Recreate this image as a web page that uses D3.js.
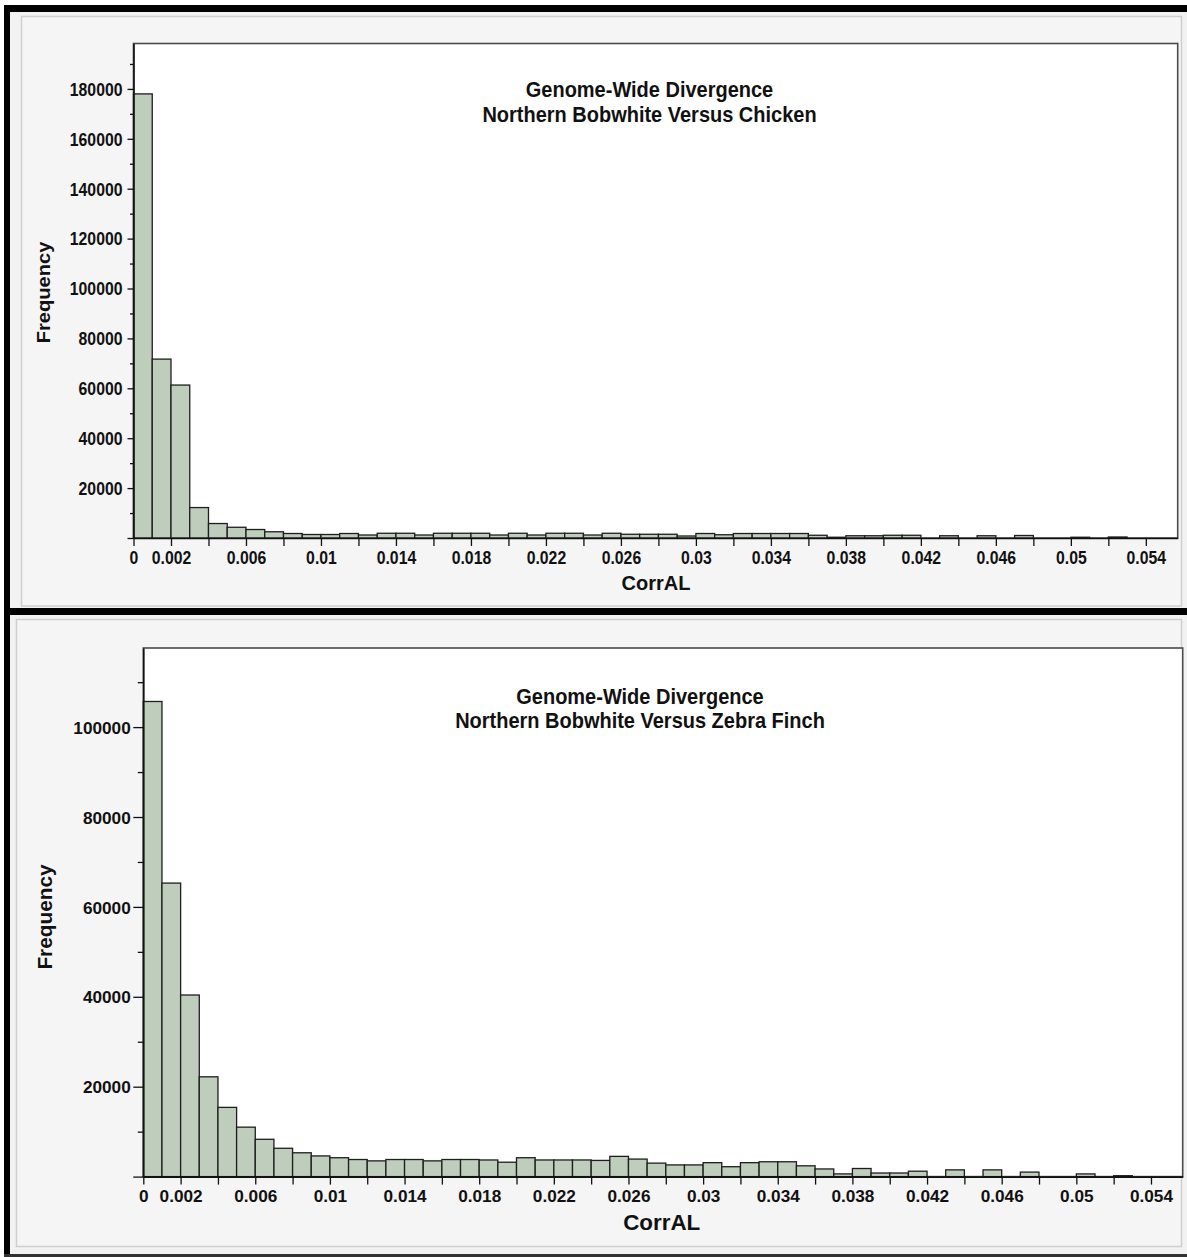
<!DOCTYPE html>
<html><head><meta charset="utf-8">
<script src="https://cdn.jsdelivr.net/npm/d3@7"></script>
<style>
body{margin:0;background:#fff}
svg{display:block}
text{font-family:"Liberation Sans",Arial,sans-serif;font-weight:bold;fill:#111}
</style>
</head><body>
<svg id="c" width="1187" height="1257"></svg>
<script>
// ---------- DATA ----------
const binStarts = [0,0.001,0.002,0.003,0.004,0.005,0.006,0.007,0.008,0.009,
  0.010,0.011,0.012,0.013,0.014,0.015,0.016,0.017,0.018,0.019,
  0.020,0.021,0.022,0.023,0.024,0.025,0.026,0.027,0.028,0.029,
  0.030,0.031,0.032,0.033,0.034,0.035,0.036,0.037,0.038,0.039,
  0.040,0.041,0.042,0.043,0.044,0.045,0.046,0.047,0.048,0.049,
  0.050,0.051,0.052,0.053,0.054];
const binWidth = 0.001;

const chickenCounts = [178000,71700,61300,12200,5800,4300,3400,2500,1800,1400,
  1400,1800,1200,1900,1900,1200,1900,1900,1900,1200,
  1900,1200,1900,1900,1200,1900,1500,1500,1500,800,
  1800,1300,1800,1800,1800,1800,1100,300,900,900,
  1100,1100,0,900,0,900,0,1000,0,0,
  300,0,400,0,0];

const zebraFinchCounts = [105700,65300,40400,22200,15400,11000,8300,6300,5300,4600,
  4200,3800,3500,3800,3800,3500,3800,3800,3700,3200,
  4200,3700,3700,3700,3600,4500,3900,3000,2600,2600,
  3100,2200,3100,3300,3300,2400,1700,600,1800,800,
  800,1200,0,1500,0,1500,0,1000,0,0,
  600,0,200,0,0];

const xTickMarks = [0,0.002,0.004,0.006,0.008,0.010,0.012,0.014,0.016,0.018,0.020,
  0.022,0.024,0.026,0.028,0.030,0.032,0.034,0.036,0.038,0.040,0.042,0.044,0.046,
  0.048,0.050,0.052,0.054];
const xTickLabels = ["0","0.002","0.006","0.01","0.014","0.018","0.022","0.026",
  "0.03","0.034","0.038","0.042","0.046","0.05","0.054"];
const xMax = 0.0557;

const chickenYMajor = [0,20000,40000,60000,80000,100000,120000,140000,160000,180000];
const chickenYMinor = [10000,30000,50000,70000,90000,110000,130000,150000,170000,190000];
const finchYMajor = [0,20000,40000,60000,80000,100000];
const finchYMinor = [10000,30000,50000,70000,90000,110000];

const xAxisTitle = "CorrAL";
const yAxisTitle = "Frequency";
const chickenTitle = ["Genome-Wide Divergence","Northern Bobwhite Versus Chicken"];
const finchTitle = ["Genome-Wide Divergence","Northern Bobwhite Versus Zebra Finch"];

// ---------- LAYOUT ----------
const topCfg = {x0:133.5,x1:1177.7,y0:43.5,y1:538,yMax:198200,
  tickFont:15.8,tickSY:1.12,yTickLen:6,yMinorLen:3.5,yTickPad:5,xTickLen:8,xLabelBaseline:564,
  xTitleFont:20,xTitleX:656,xTitleY:590,
  yTitleFont:17.5,yTitleSY:1.15,yTitleX:50,yTitleY:292.5,
  titleFont:20,titleSY:1.08,titleX:649.5,titleY:[97.3,121.7]};
const botCfg = {x0:143.3,x1:1182.7,y0:648,y1:1176.6,yMax:117600,
  tickFont:17.2,tickSY:1.0,yTickLen:10,yMinorLen:5.5,yTickPad:2.6,xTickLen:8,xLabelBaseline:1201.7,
  xTitleFont:22.4,xTitleX:661.7,xTitleY:1230,
  yTitleFont:20.8,yTitleSY:1.0,yTitleX:52,yTitleY:917,
  titleFont:20,titleSY:1.08,titleX:640,titleY:[704,728]};

const svg = d3.select('#c');

// ---------- FRAME ----------
svg.append('rect').attr('x',10).attr('y',12).attr('width',1177).attr('height',596).attr('fill','#f2f2f2');
svg.append('rect').attr('x',10).attr('y',615).attr('width',1177).attr('height',639).attr('fill','#f2f2f2');
svg.append('rect').attr('x',21.5).attr('y',16.5).attr('width',1160).attr('height',589.5)
  .attr('fill','#f5f5f5').attr('stroke','#cfcfcf').attr('stroke-width',1.5);
svg.append('rect').attr('x',16.5).attr('y',619.5).attr('width',1165).attr('height',627)
  .attr('fill','#f5f5f5').attr('stroke','#cfcfcf').attr('stroke-width',1.5);
svg.append('rect').attr('x',4).attr('y',5).attr('width',6).attr('height',1252).attr('fill','#000');
svg.append('rect').attr('x',4).attr('y',5).attr('width',1183).attr('height',7).attr('fill','#000');
svg.append('rect').attr('x',4).attr('y',608).attr('width',1183).attr('height',7).attr('fill','#000');
svg.append('rect').attr('x',4).attr('y',1254).attr('width',1183).attr('height',3).attr('fill','#333');

// ---------- PANEL ----------
function drawPanel(cfg, counts, yMajor, yMinor, titleLines){
  const x = d3.scaleLinear().domain([0,xMax]).range([cfg.x0,cfg.x1]);
  const y = d3.scaleLinear().domain([0,cfg.yMax]).range([cfg.y1,cfg.y0]);
  const g = svg.append('g');

  g.append('rect').attr('x',cfg.x0).attr('y',cfg.y0)
    .attr('width',cfg.x1-cfg.x0).attr('height',cfg.y1-cfg.y0)
    .attr('fill','#fff').attr('stroke','#4a4a4a').attr('stroke-width',1.6);

  const bins = binStarts.map((b,i)=>({b:b,c:counts[i]})).filter(d=>d.c>0);
  g.append('g').selectAll('rect').data(bins).join('rect')
    .attr('x',d=>x(d.b)).attr('width',d=>x(d.b+binWidth)-x(d.b))
    .attr('y',d=>y(d.c)).attr('height',d=>y(0)-y(d.c))
    .attr('fill','#bfcdbd').attr('stroke','#1e1e1e').attr('stroke-width',1.3);

  // y minor ticks
  const ym = g.append('g').attr('transform',`translate(${cfg.x0},0)`)
    .call(d3.axisLeft(y).tickValues(yMinor).tickSize(cfg.yMinorLen).tickFormat(''));
  ym.select('.domain').remove();
  ym.selectAll('line').attr('stroke','#111').attr('stroke-width',1.3);

  // y major ticks + labels
  const ya = g.append('g').attr('transform',`translate(${cfg.x0},0)`)
    .call(d3.axisLeft(y).tickValues(yMajor).tickSize(cfg.yTickLen).tickSizeOuter(0)
      .tickPadding(cfg.yTickPad).tickFormat(d=> d===0 ? '' : d3.format('d')(d)));
  ya.attr('font-size',null).attr('font-family',null);
  ya.select('.domain').attr('stroke','#111').attr('stroke-width',1.6);
  ya.selectAll('line').attr('stroke','#111').attr('stroke-width',1.3);
  ya.selectAll('.tick text').attr('dy',null)
    .style('font-size',cfg.tickFont+'px')
    .attr('transform',`translate(0,${0.358*cfg.tickFont*cfg.tickSY}) scale(1,${cfg.tickSY})`);

  // x axis
  const labelSet = new Set(xTickLabels);
  const xa = g.append('g').attr('transform',`translate(0,${cfg.y1})`)
    .call(d3.axisBottom(x).tickValues(xTickMarks).tickSize(cfg.xTickLen).tickSizeOuter(0)
      .tickFormat(d=>{const s=String(+d.toFixed(3)); return labelSet.has(s)?s:'';}));
  xa.attr('font-size',null).attr('font-family',null);
  xa.select('.domain').attr('stroke','#111').attr('stroke-width',1.6);
  xa.selectAll('line').attr('stroke','#111').attr('stroke-width',1.3);
  xa.selectAll('.tick text').attr('y',null).attr('dy',null)
    .style('font-size',cfg.tickFont+'px')
    .attr('transform',`translate(0,${cfg.xLabelBaseline-cfg.y1}) scale(1,${cfg.tickSY})`);

  // axis titles
  g.append('text').attr('text-anchor','middle')
    .attr('transform',`translate(${cfg.xTitleX},${cfg.xTitleY})`)
    .style('font-size',cfg.xTitleFont+'px').text(xAxisTitle);
  g.append('text').attr('text-anchor','middle')
    .attr('transform',`translate(${cfg.yTitleX},${cfg.yTitleY}) scale(1,${cfg.yTitleSY}) rotate(-90)`)
    .style('font-size',cfg.yTitleFont+'px').text(yAxisTitle);

  // chart title
  titleLines.forEach((t,i)=>{
    g.append('text').attr('text-anchor','middle')
      .attr('transform',`translate(${cfg.titleX},${cfg.titleY[i]}) scale(1,${cfg.titleSY})`)
      .style('font-size',cfg.titleFont+'px').text(t);
  });
}

drawPanel(topCfg, chickenCounts, chickenYMajor, chickenYMinor, chickenTitle);
drawPanel(botCfg, zebraFinchCounts, finchYMajor, finchYMinor, finchTitle);
</script>
</body></html>
